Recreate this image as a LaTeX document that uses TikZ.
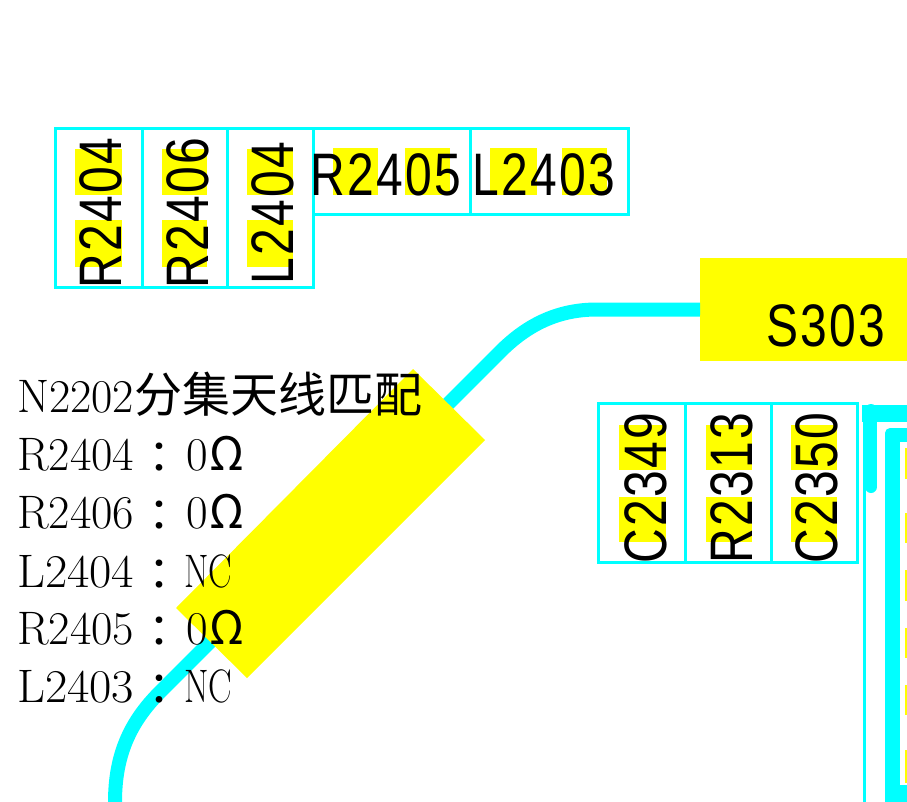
\documentclass[tikz,border=0pt]{standalone}
\usepackage{fontspec}
\usepackage{xcolor}
\newfontfamily\cjkfont{Noto Sans CJK SC}
\newfontfamily\colonfont{Noto Sans CJK TC}
\newfontfamily\tagfont[FakeStretch=0.8,LetterSpace=4]{Liberation Sans}
\definecolor{padcyan}{RGB}{0,255,255}
\definecolor{padyellow}{RGB}{255,255,0}
\newcommand{\refdes}[1]{\resizebox{117pt}{\height}{#1}}
\newcommand{\partcolon}{\makebox[50pt][c]{\raisebox{-3pt}{\colonfont\fontsize{44}{44}\selectfont ：}}}
\newcommand{\nctext}{\resizebox{48pt}{\height}{NC}}
\newcommand{\ohmtext}{\hspace{2pt}0\hspace{2pt}{\cjkfont\fontsize{46}{46}\selectfont Ω}}
\tikzset{
  cell/.style={draw=padcyan, line width=3pt, inner sep=0pt},
  hilite/.style={fill=padyellow},
  trace/.style={draw=padcyan, line width=14pt},
  tag/.style={inner sep=0pt, text=black, font=\tagfont\fontsize{60}{60}\selectfont},
  entry/.style={anchor=base west, inner sep=0pt, font=\fontsize{47}{47}\selectfont}
}
\begin{document}
\begin{tikzpicture}[x=1pt, y=-1pt]
\useasboundingbox (0,0) rectangle (907,802);
% trace and its pad
\node[hilite, inner sep=0pt, minimum width=207pt, minimum height=103pt, anchor=north west] (padS) at (700,258) {};
\coordinate (traceend) at (115,802);
\draw[trace] (padS.west) -- (597,309.5) .. controls (560,309.5) and (530,323) .. (503,349) -- (160,692) .. controls (130,722) and (115,755) .. (traceend);
\node[tag] (tagS) at (826,326) {S303};
\fill[hilite] (413,369) -- (485,440) -- (247,678) -- (176,608) -- cycle;
% highlights top row
\fill[hilite] (75,149) rectangle (122,195);
\fill[hilite] (75,220) rectangle (122,267);
\fill[hilite] (162,149) rectangle (207,195);
\fill[hilite] (162,220) rectangle (207,267);
\fill[hilite] (247,149) rectangle (293,195);
\fill[hilite] (247,220) rectangle (293,267);
\fill[hilite] (333,148) rectangle (378,195);
\fill[hilite] (405,148) rectangle (450,195);
\fill[hilite] (490,148) rectangle (537,195);
\fill[hilite] (562,148) rectangle (607,195);
% highlights lower row
\fill[hilite] (619,425) rectangle (666,470);
\fill[hilite] (619,497) rectangle (666,542);
\fill[hilite] (706,425) rectangle (752,470);
\fill[hilite] (706,497) rectangle (752,542);
\fill[hilite] (791,425) rectangle (837,470);
\fill[hilite] (791,497) rectangle (837,542);
% cells
\node[cell, minimum width=87pt, minimum height=158pt] (cellA) at (98.5,208) {};
\node[cell, minimum width=85pt, minimum height=158pt] (cellB) at (184.5,208) {};
\node[cell, minimum width=86pt, minimum height=158pt] (cellC) at (270,208) {};
\node[cell, minimum width=157pt, minimum height=86pt] (cellD) at (391.5,172) {};
\node[cell, minimum width=158pt, minimum height=86pt] (cellE) at (549,172) {};
\node[cell, minimum width=87pt, minimum height=159pt] (cellF) at (641.5,482.5) {};
\node[cell, minimum width=86pt, minimum height=159pt] (cellG) at (728,482.5) {};
\node[cell, minimum width=86pt, minimum height=159pt] (cellH) at (814,482.5) {};
% labels
\node[tag, rotate=90] (tagA) at (101,213) {R2404};
\node[tag, rotate=90] (tagB) at (187.5,213) {R2406};
\node[tag, rotate=90] (tagC) at (273,213) {L2404};
\node[tag] (tagD) at (386,175) {R2405};
\node[tag] (tagE) at (544,175) {L2403};
\node[tag, rotate=90] (tagF) at (646,488) {C2349};
\node[tag, rotate=90] (tagG) at (732,488) {R2313};
\node[tag, rotate=90] (tagH) at (817,488) {C2350};
% right hand traces
\fill[padcyan] (862,405) rectangle (907,422);
\draw[padcyan, line width=3pt] (864,405) -- (864,802);
\draw[padcyan, line width=12pt, line cap=round] (871,410) -- (871,487);
\fill[padcyan, rounded corners=5pt] (885,440) -- (885,428) -- (920,428) -- (920,815) -- (885,815) -- cycle;
\fill[white] (900,442) rectangle (907,785);
\fill[hilite] (905,448) rectangle (907,479);
\fill[hilite] (905,513) rectangle (907,543);
\fill[hilite] (905,570) rectangle (907,601);
\fill[hilite] (905,628) rectangle (907,658);
\fill[hilite] (905,685) rectangle (907,715);
\fill[hilite] (905,750) rectangle (907,783);
% text list
\node[entry] (lineA) at (17,412) {\refdes{N2202}{\cjkfont\fontsize{48}{48}\selectfont 分集天线匹配}};
\node[entry] (lineB) at (17,470) {\refdes{R2404}\partcolon\ohmtext};
\node[entry] (lineC) at (17,528) {\refdes{R2406}\partcolon\ohmtext};
\node[entry] (lineD) at (17,587) {\refdes{L2404}\partcolon\nctext};
\node[entry] (lineE) at (17,644) {\refdes{R2405}\partcolon\ohmtext};
\node[entry] (lineF) at (17,702) {\refdes{L2403}\partcolon\nctext};
\end{tikzpicture}
\end{document}
